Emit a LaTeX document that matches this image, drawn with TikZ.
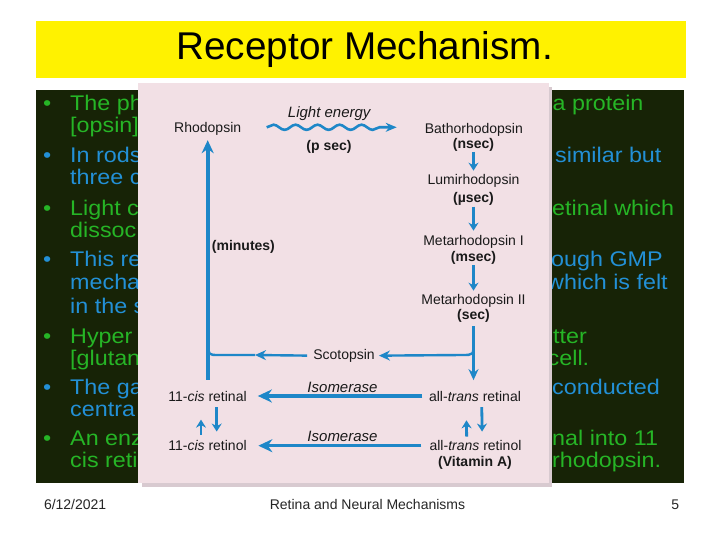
\documentclass[tikz,border=0pt]{standalone}
\usepackage{fontspec}
\setmainfont{Liberation Sans}
\newfontfamily\bodyf{Liberation Sans}[FakeStretch=1.1]
\usetikzlibrary{arrows.meta,decorations.pathmorphing}
\definecolor{darkbg}{HTML}{172306}
\definecolor{bgreen}{HTML}{26B526}
\definecolor{bblue}{HTML}{2390D6}
\definecolor{pinkbg}{HTML}{F2E0E5}
\definecolor{pinkshadow}{HTML}{D8CAD0}
\definecolor{dblue}{HTML}{1E87C8}
\definecolor{dtext}{HTML}{1A1A1A}
\definecolor{foot}{HTML}{262626}
\tikzset{
  bl/.style={anchor=base west, inner sep=0pt, font=\bodyf\fontsize{21.2}{24}\selectfont},
  gtxt/.style={bl, text=bgreen},
  btxt/.style={bl, text=bblue},
  dlab/.style={anchor=base, inner sep=0pt, font=\fontsize{14}{16}\selectfont, text=dtext},
  dbold/.style={dlab, font=\fontsize{14}{16}\selectfont\bfseries},
  dital/.style={dlab, font=\fontsize{15}{17}\selectfont\itshape},
  foottxt/.style={anchor=base, inner sep=0pt, font=\fontsize{14}{16}\selectfont, text=foot},
  smallarr/.style={draw=dblue, line width=2.8pt, -{Stealth[length=8pt,width=10pt]}},
  midarr/.style={draw=dblue, line width=2.4pt, -{Stealth[length=11pt,width=10pt]}},
  midline/.style={draw=dblue, line width=2.4pt},
  bigarr/.style={draw=dblue, line width=3.8pt, -{Stealth[length=13pt,width=12pt]}},
  isoarr/.style={draw=dblue, line width=3.4pt, -{Stealth[length=14pt,width=13pt]}},
  wavearr/.style={draw=dblue, line width=2.6pt, decorate,
     decoration={snake, amplitude=2.6pt, segment length=22pt, post length=12pt},
     -{Stealth[length=11pt,width=9pt]}}
}
\begin{document}
\begin{tikzpicture}[x=1pt,y=-1pt]
\useasboundingbox (0,0) rectangle (720,540);
\fill[white] (0,0) rectangle (720,540);
% title banner
\fill[yellow] (36,20.7) rectangle (686,78.5);
\node[anchor=base, inner sep=0pt, font=\fontsize{38.7}{40}\selectfont] (title) at (364.7,60) {Receptor Mechanism.};
% dark text box
\fill[darkbg] (36,90) rectangle (684,482.7);
% bullets (left fragments)
\node[gtxt] (b1) at (43,111) {•};
\node[gtxt] (l1a) at (70,111) {The ph};
\node[gtxt] (l1b) at (70,133) {[opsin]};
\node[btxt] (b2) at (43,163) {•};
\node[btxt] (l2a) at (70,163) {In rods};
\node[btxt] (l2b) at (70,185) {three c};
\node[gtxt] (b3) at (43,215) {•};
\node[gtxt] (l3a) at (70,215) {Light c};
\node[gtxt] (l3b) at (70,237.5) {dissoc};
\node[btxt] (b4) at (43,266) {•};
\node[btxt] (l4a) at (70,266) {This re};
\node[btxt] (l4b) at (70,289.5) {mecha};
\node[btxt] (l4c) at (70,313) {in the s};
\node[gtxt] (b5) at (43,343) {•};
\node[gtxt] (l5a) at (70,343) {Hyper};
\node[gtxt] (l5b) at (70,365) {[glutan};
\node[btxt] (b6) at (43,394) {•};
\node[btxt] (l6a) at (70,394) {The ga};
\node[btxt] (l6b) at (70,416.5) {centra};
\node[gtxt] (b7) at (43,445.5) {•};
\node[gtxt] (l7a) at (70,445.5) {An enz};
\node[gtxt] (l7b) at (70,467.5) {cis reti};
% right fragments
\node[gtxt] (r1a) at (552.5,111) {a protein};
\node[btxt] (r2a) at (555,163) {similar but};
\node[gtxt] (r3a) at (552,215) {etinal which};
\node[btxt] (r4a) at (551,266) {ough GMP};
\node[btxt] (r4b) at (547,289.5) {which is felt};
\node[gtxt] (r5a) at (553,343) {tter};
\node[gtxt] (r5b) at (547.5,365) {cell.};
\node[btxt] (r6a) at (552,394) {conducted};
\node[gtxt] (r7a) at (552,445.5) {nal into 11};
\node[gtxt] (r7b) at (552,467.5) {rhodopsin.};
% pink figure panel
\fill[pinkshadow] (142,87) rectangle (552,486.5);
\fill[pinkbg] (138,83) rectangle (549,482.5);
% diagram labels
\node[dlab] (rho) at (207.7,132.7) {Rhodopsin};
\node[dital] (light) at (329.2,117.7) {Light energy};
\node[dbold] (psec) at (329,150.7) {(p sec)};
\node[dlab] (batho) at (473.8,133.3) {Bathorhodopsin};
\node[dbold] (nsec) at (473.5,148.3) {(nsec)};
\node[dlab] (lumi) at (473.5,185) {Lumirhodopsin};
\node[dbold] (usec) at (473.5,202.5) {(µsec)};
\node[dlab] (metaI) at (473.5,245) {Metarhodopsin I};
\node[dbold] (msec) at (473.5,261) {(msec)};
\node[dlab] (metaII) at (473.5,304) {Metarhodopsin II};
\node[dbold] (sec) at (473.5,319.5) {(sec)};
\node[dbold, anchor=base west] (minutes) at (211.7,250.7) {(minutes)};
\node[dlab] (scot) at (344,359.3) {Scotopsin};
\node[dlab] (cisal) at (207.5,401) {11-\textit{cis} retinal};
\node[dlab] (transal) at (475,401) {all-\textit{trans} retinal};
\node[dlab] (cisol) at (207.5,450.7) {11-\textit{cis} retinol};
\node[dlab] (transol) at (475.5,450.7) {all-\textit{trans} retinol};
\node[dbold] (vitA) at (475,466.7) {(Vitamin A)};
\node[dital] (iso1) at (342.5,392.5) {Isomerase};
\node[dital] (iso2) at (342.5,441.5) {Isomerase};
% connectors
\coordinate (w0) at (266.7,127.3);
\coordinate (w1) at (396.7,127.3);
\draw[wavearr] (w0) -- (w1);
\draw[smallarr, shorten <=0.5pt, shorten >=4pt] (nsec.south) -- (lumi.north);
\draw[smallarr, shorten <=1pt, shorten >=4pt] (usec.south) -- (metaI.north);
\draw[smallarr, shorten <=1pt, shorten >=3pt] (msec.south) -- (metaII.north);
\draw[midarr, shorten <=3.5pt, shorten >=10.5pt] (sec.south) -- (sec.south |- transal.north);
\coordinate (br) at (473.5,343);
\draw[midarr, shorten >=4pt] (br) .. controls (473.5,355) .. (462,355) -- (scot.east);
\coordinate (sl) at (255,355);
\draw[midarr, shorten <=6pt] (scot.west) -- (sl);
\draw[midline] (sl) -- (219,355) .. controls (208.3,355) .. (208.3,344);
\draw[bigarr, shorten <=10.8pt, shorten >=4.4pt] (cisal.north -| rho.south) -- (rho.south);
\draw[isoarr, shorten <=6.6pt, shorten >=11pt] (transal.west) -- (cisal.east);
\draw[isoarr, shorten <=8pt, shorten >=11.5pt] (transol.west) -- (cisol.east);
\draw[smallarr, shorten <=5.5pt, shorten >=18.3pt] ([xshift=-6.5pt]cisol.north) -- ([xshift=-6.5pt]cisal.south);
\draw[smallarr, shorten <=5.7pt, shorten >=8.8pt] ([xshift=9.2pt]cisal.south) -- ([xshift=9.2pt]cisol.north);
\draw[smallarr, shorten <=3.8pt, shorten >=19pt] ([xshift=-8.8pt]transol.north) -- ([xshift=-8.8pt]transal.south);
\draw[smallarr, shorten <=5.7pt, shorten >=8.8pt] ([xshift=6.7pt]transal.south) -- ([xshift=6.7pt]transol.north);
% footer
\node[foottxt, anchor=base west] (date) at (43.8,509) {6/12/2021};
\node[foottxt] (course) at (367.5,509) {Retina and Neural Mechanisms};
\node[foottxt, anchor=base east] (page) at (679.3,509) {5};
\end{tikzpicture}
\end{document}
